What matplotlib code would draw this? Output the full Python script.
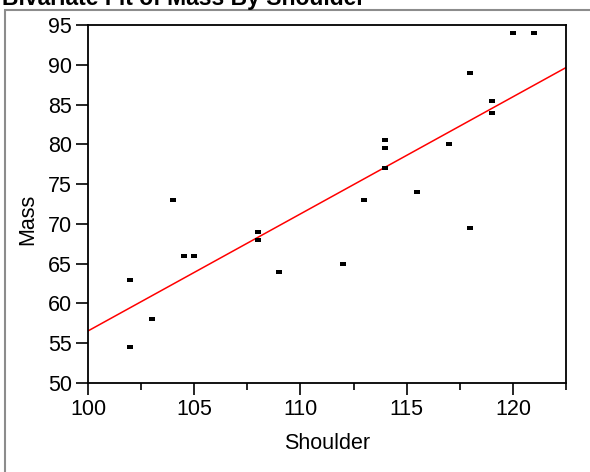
import matplotlib
matplotlib.use("Agg")
import matplotlib.pyplot as plt
import numpy as np
from matplotlib.patches import Rectangle
from matplotlib.ticker import MultipleLocator

plt.rcParams['font.family'] = ['Liberation Sans', 'DejaVu Sans']

# data (Mass vs Shoulder girth, 22 men)
shoulder = [114.0, 119.0, 102.0, 114.0, 114.0, 121.0, 105.0, 108.0, 112.0, 103.0, 118.0,
            113.0, 115.5, 108.0, 117.0, 104.5, 102.0, 109.0, 119.0, 104.0, 118.0, 120.0]
mass = [77.0, 85.5, 63.0, 80.5, 79.5, 94.0, 66.0, 69.0, 65.0, 58.0, 69.5,
        73.0, 74.0, 68.0, 80.0, 66.0, 54.5, 64.0, 84.0, 73.0, 89.0, 94.0]
x_ticks = [100, 105, 110, 115, 120]
y_ticks = [50, 55, 60, 65, 70, 75, 80, 85, 90, 95]

fig = plt.figure(figsize=(5.9, 4.72), dpi=100, facecolor='w')
ax = fig.add_axes([88/590., 1-383/472., 478/590., 358/472.])

# outer report frame (runs off the right/bottom edges)
fig.patches.append(Rectangle((5/590., -0.5), 2.0, 1.5 - 10/472., transform=fig.transFigure,
                             fill=False, edgecolor='#8c8c8c', lw=1.5, clip_on=False))
fig.text(2/590., 1 - 5/472., "Bivariate Fit of Mass By Shoulder", fontsize=16.5,
         fontweight='bold', va='baseline', ha='left')

# linear fit
slope, icpt = np.polyfit(shoulder, mass, 1)
xl = np.array([100, 122.5])
ax.plot(xl, icpt + slope*xl, color='#ff0000', lw=1.1, zorder=2)

rect = [(-1, -0.6), (1, -0.6), (1, 0.6), (-1, 0.6), (-1, -0.6)]
ax.plot(shoulder, mass, linestyle='none', marker=rect, markersize=4.5,
        color='k', mec='k', mew=0, zorder=3)

ax.set_xlim(100, 122.5)
ax.set_ylim(50, 95)
ax.set_xticks(x_ticks)
ax.set_yticks(y_ticks)
ax.xaxis.set_minor_locator(MultipleLocator(2.5))
ax.tick_params(which='major', length=8.5, width=1.2, labelsize=15.5, pad=3)
ax.tick_params(which='minor', length=5, width=1.2)
for s in ax.spines.values():
    s.set_linewidth(1.3)

ax.set_xlabel("Shoulder", fontsize=15.5)
ax.set_ylabel("Mass", fontsize=15.5)
ax.xaxis.set_label_coords(0.5, (383-444)/358., transform=ax.transAxes)
ax.xaxis.label.set_va('center')
ax.yaxis.set_label_coords((28-88)/478., (383-219)/358., transform=ax.transAxes)
ax.yaxis.label.set_va('center')

fig.savefig("out.png", dpi=100)
